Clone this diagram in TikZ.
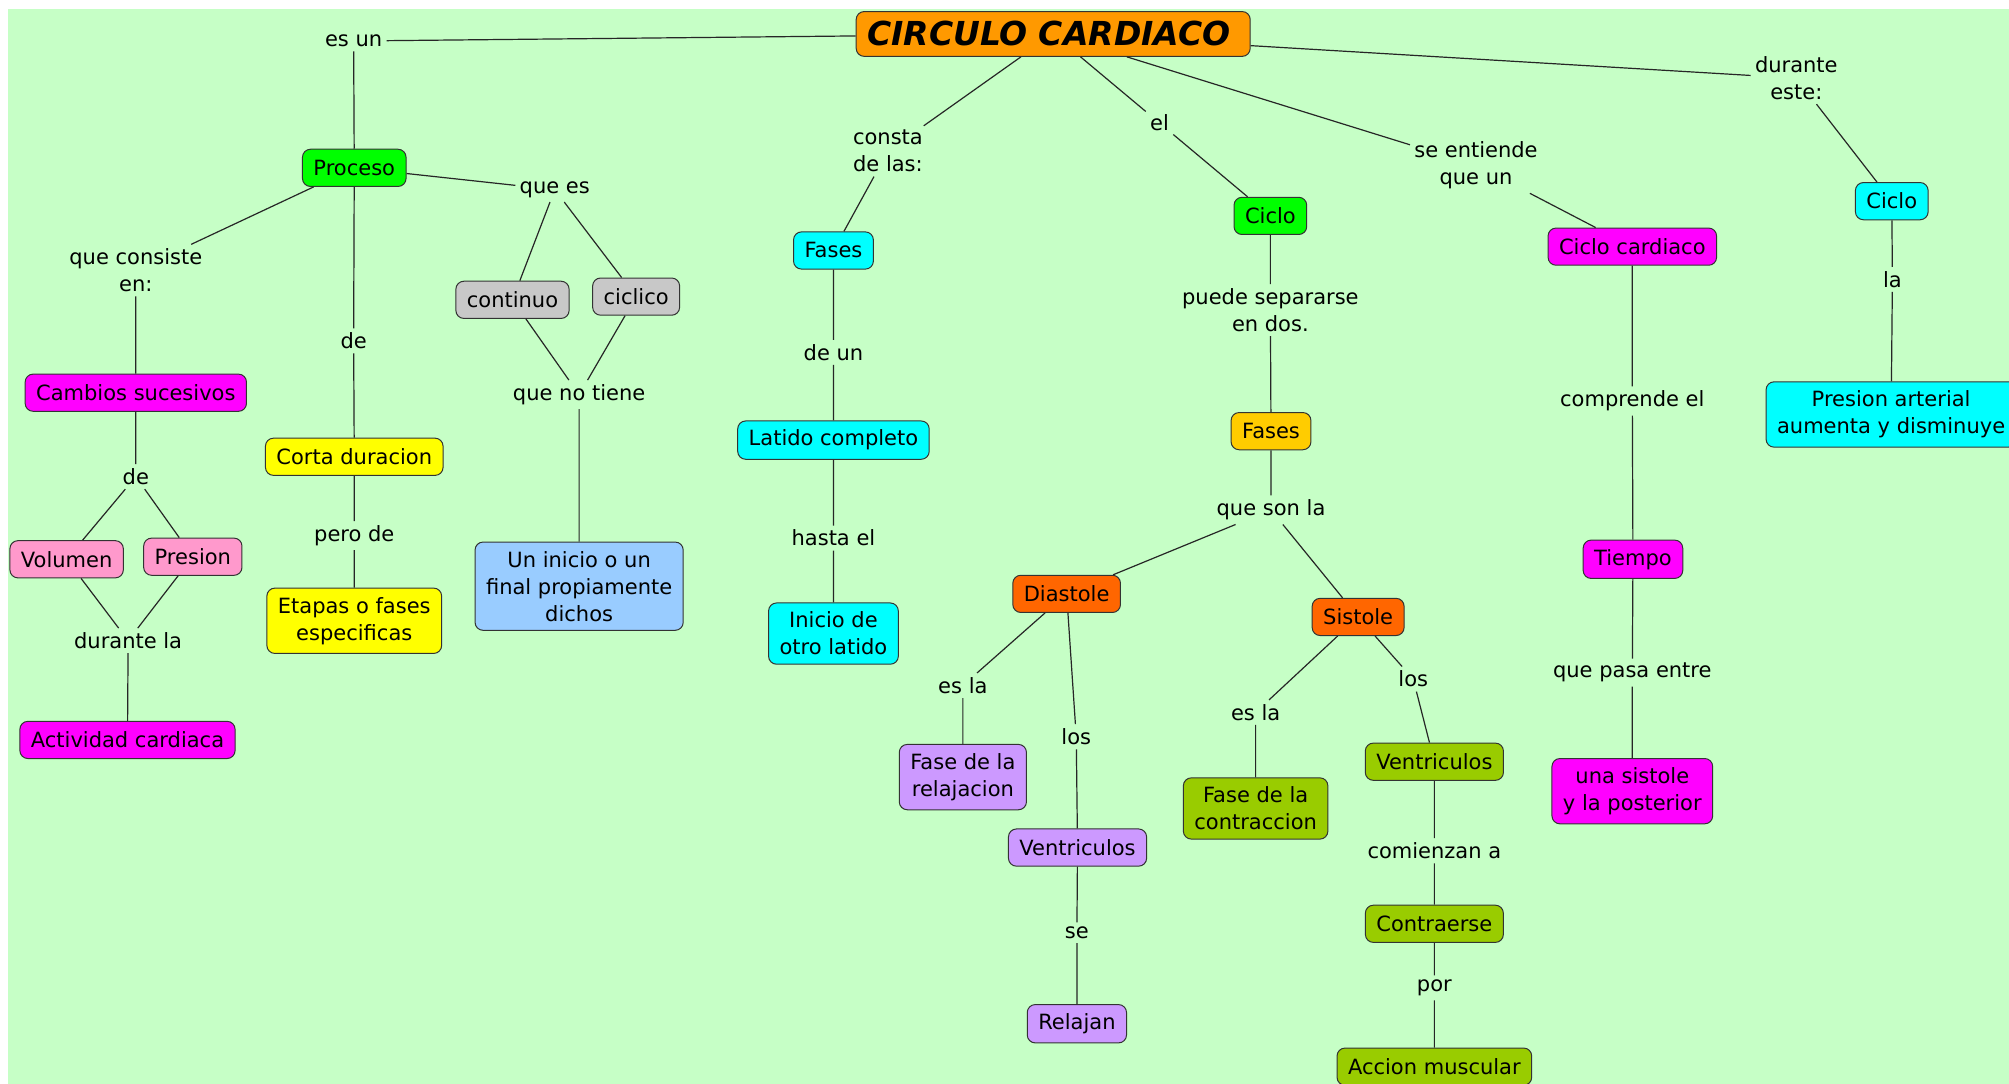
\documentclass[tikz,border=0pt]{standalone}
\usepackage{fontspec}
\setmainfont{DejaVu Sans}
\definecolor{mapbg}{RGB}{198,255,198}
\definecolor{corange}{RGB}{255,153,0}
\definecolor{cgreen}{RGB}{0,255,0}
\definecolor{cmagenta}{RGB}{255,0,255}
\definecolor{cpink}{RGB}{255,153,204}
\definecolor{cyellow}{RGB}{255,255,0}
\definecolor{cgray}{RGB}{200,200,200}
\definecolor{cblue}{RGB}{153,204,255}
\definecolor{ccyan}{RGB}{0,255,255}
\definecolor{cgold}{RGB}{255,204,0}
\definecolor{cred}{RGB}{255,102,0}
\definecolor{cpurple}{RGB}{204,153,255}
\definecolor{colive}{RGB}{153,204,0}
\tikzset{
  concept/.style={draw=black!80, line width=0.5pt, rounded corners=4pt,
    minimum height=18.6pt, inner xsep=5.5pt, inner ysep=4.5pt, align=center,
    font=\fontsize{10.5}{13.5}\selectfont},
  phrase/.style={inner sep=2pt, align=center, font=\fontsize{10.5}{13.5}\selectfont},
  link/.style={line width=0.6pt, black!85}
}
\begin{document}
\begin{tikzpicture}[x=0.6406pt, y=-0.6406pt]
   \useasboundingbox (0,0) rectangle (1568,846);
   \clip (0,0) rectangle (1568,846);
   \fill[mapbg] (6,7) rectangle (1568,846);   % map background
   % concepts
   \node[concept, fill=corange, minimum height=22.4pt, text width=186pt, align=left,
     font=\fontsize{16.5}{19}\selectfont\bfseries\itshape] (title) at (822,26.5) {CIRCULO CARDIACO};
   \node[concept, fill=cgreen] (proceso) at (276.5,131) {Proceso};
   \node[concept, fill=cmagenta] (cambios) at (106,306.5) {Cambios sucesivos};
   \node[concept, fill=cpink] (volumen) at (52,436.5) {Volumen};
   \node[concept, fill=cpink] (presion) at (150.5,434.5) {Presion};
   \node[concept, fill=cmagenta] (actividad) at (99.5,577.5) {Actividad cardiaca};
   \node[concept, fill=cyellow] (corta) at (276.5,356.5) {Corta duracion};
   \node[concept, fill=cyellow] (etapas) at (276.5,484.5) {Etapas o fases\\especificas};
   \node[concept, fill=cgray] (continuo) at (400,234) {continuo};
   \node[concept, fill=cgray] (ciclico) at (496.5,231.5) {ciclico};
   \node[concept, fill=cblue] (uninicio) at (452,457.5) {Un inicio o un\\final propiamente\\dichos};
   \node[concept, fill=ccyan] (fasesA) at (650.5,195.5) {Fases};
   \node[concept, fill=ccyan] (latido) at (650.5,343.5) {Latido completo};
   \node[concept, fill=ccyan] (inicio) at (650.5,494.5) {Inicio de\\otro latido};
   \node[concept, fill=cgreen] (cicloA) at (991.5,168.5) {Ciclo};
   \node[concept, fill=cgold] (fasesB) at (992,336.5) {Fases};
   \node[concept, fill=cred] (diastole) at (832.5,463.5) {Diastole};
   \node[concept, fill=cred] (sistole) at (1060,481.5) {Sistole};
   \node[concept, fill=cpurple] (faserel) at (751.5,606.5) {Fase de la\\relajacion};
   \node[concept, fill=cpurple] (ventrA) at (841,661.5) {Ventriculos};
   \node[concept, fill=cpurple] (relajan) at (840.5,799) {Relajan};
   \node[concept, fill=colive] (fasecon) at (980,631) {Fase de la\\contraccion};
   \node[concept, fill=colive] (ventrB) at (1119.5,594.5) {Ventriculos};
   \node[concept, fill=colive] (contraerse) at (1119.5,721) {Contraerse};
   \node[concept, fill=colive] (accion) at (1119.5,832.5) {Accion muscular};
   \node[concept, fill=cmagenta] (ciclocard) at (1274,192.5) {Ciclo cardiaco};
   \node[concept, fill=cmagenta] (tiempo) at (1274.5,436.5) {Tiempo};
   \node[concept, fill=cmagenta] (unasistole) at (1274,617.5) {una sistole\\y la posterior};
   \node[concept, fill=ccyan] (cicloB) at (1476.5,157) {Ciclo};
   \node[concept, fill=ccyan] (presart) at (1476,323.5) {Presion arterial\\aumenta y disminuye};
   % linking phrases
   \node[phrase] (esun) at (276,32) {es un};
   \node[phrase] (consiste) at (106,211) {que consiste\\en:};
   \node[phrase] (deA) at (276,266) {de};
   \node[phrase] (perode) at (276.5,418) {pero de};
   \node[phrase] (quees) at (433,148) {que es};
   \node[phrase] (notiene) at (452,308) {que no tiene};
   \node[phrase] (deB) at (106,372) {de};
   \node[phrase] (durla) at (100,500) {durante la};
   \node[phrase] (consta) at (693,118) {consta\\de las:};
   \node[phrase] (deun) at (650.5,275) {de un};
   \node[phrase] (hasta) at (650.5,420) {hasta el};
   \node[phrase] (el) at (905,96) {el};
   \node[phrase] (separa) at (991.5,242) {puede separarse\\en dos.};
   \node[phrase] (sonla) at (992,398) {que son la};
   \node[phrase] (eslaA) at (751.5,535) {es la};
   \node[phrase] (losA) at (840,575) {los};
   \node[phrase] (se) at (840.5,728) {se};
   \node[phrase] (eslaB) at (980,556) {es la};
   \node[phrase] (losB) at (1103,530) {los};
   \node[phrase] (comienzan) at (1119.5,664) {comienzan a};
   \node[phrase] (por) at (1119.5,771) {por};
   \node[phrase] (entiende) at (1152,129) {se entiende\\que un};
   \node[phrase] (comprende) at (1274,313) {comprende el};
   \node[phrase] (pasa) at (1274,525) {que pasa entre};
   \node[phrase] (dureste) at (1402,61) {durante\\este:};
   \node[phrase] (la) at (1477,218) {la};
   % connectors
   \draw[link] (title) -- (esun) -- (proceso);
   \draw[link] (proceso) -- (consiste) -- (cambios);
   \draw[link] (proceso) -- (deA) -- (corta) -- (perode) -- (etapas);
   \draw[link] (proceso) -- (quees) -- (continuo) -- (notiene) -- (uninicio);
   \draw[link] (quees) -- (ciclico) -- (notiene);
   \draw[link] (cambios) -- (deB) -- (volumen) -- (durla) -- (actividad);
   \draw[link] (deB) -- (presion) -- (durla);
   \draw[link] (title) -- (consta) -- (fasesA) -- (deun) -- (latido) -- (hasta) -- (inicio);
   \draw[link] (title) -- (el) -- (cicloA) -- (separa) -- (fasesB) -- (sonla) -- (diastole);
   \draw[link] (sonla) -- (sistole);
   \draw[link] (diastole) -- (eslaA) -- (faserel);
   \draw[link] (diastole) -- (losA) -- (ventrA) -- (se) -- (relajan);
   \draw[link] (sistole) -- (eslaB) -- (fasecon);
   \draw[link] (sistole) -- (losB) -- (ventrB) -- (comienzan) -- (contraerse) -- (por) -- (accion);
   \draw[link] (title) -- (entiende) -- (ciclocard) -- (comprende) -- (tiempo) -- (pasa) -- (unasistole);
   \draw[link] (title) -- (dureste) -- (cicloB) -- (la) -- (presart);
\end{tikzpicture}
\end{document}
